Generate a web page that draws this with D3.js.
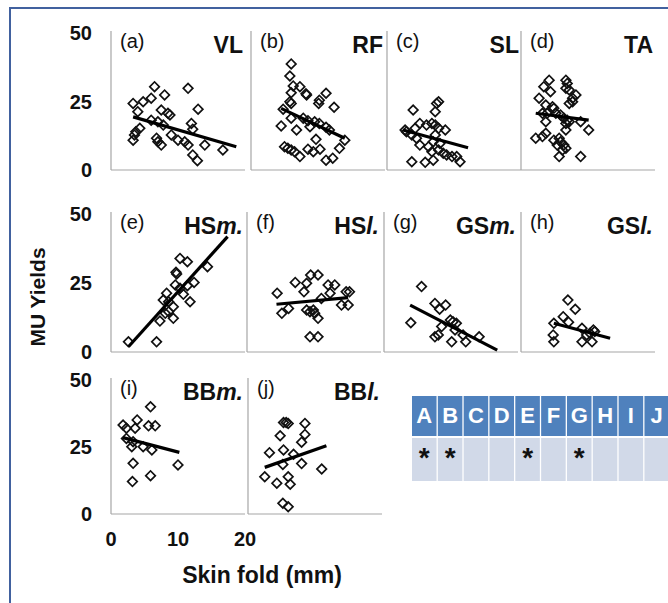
<!DOCTYPE html>
<html><head><meta charset="utf-8">
<script src="https://cdn.jsdelivr.net/npm/d3@7"></script>
<style>body{margin:0;background:#fff}svg{display:block}</style>
</head><body>
<script>
// ---------- DATA ----------
const yTicks = [0, 25, 50];
const xTicks = [0, 10, 20];
const panelLetters = ["(a)","(b)","(c)","(d)","(e)","(f)","(g)","(h)","(i)","(j)"];
const muscleNames  = ["VL","RF","SL","TA","HS","HS","GS","GS","BB","BB"];
const muscleSuffix = ["","","","","m.","l.","m.","l.","m.","l."];

const ptsVL = [[6.5,30.4],[11.5,29.8],[3.3,24.3],[4.8,24.9],[6.0,26.2],[8.0,27.4],[13.0,22.2],[4.0,21.3],[7.5,21.9],[8.5,20.7],[8.8,20.1],[6.0,18.2],[7.0,17.6],[7.8,16.4],[12.0,17.0],[12.2,14.9],[4.3,15.2],[3.7,14.0],[3.5,12.8],[3.3,10.9],[6.8,11.6],[7.0,10.3],[7.5,9.1],[9.0,12.8],[10.0,10.9],[11.0,10.3],[11.5,9.1],[14.0,9.1],[16.7,7.3],[12.2,5.5],[12.9,3.4]];
const fitVL = [[3.3,19.4],[18.7,8.5]];

const ptsRF = [[6.0,38.7],[5.8,34.3],[6.3,30.7],[7.3,30.4],[6.0,28.2],[8.3,27.4],[8.2,27.8],[11.2,28.0],[10.2,25.5],[10.1,24.3],[12.4,22.9],[5.8,24.9],[6.0,24.3],[4.8,22.2],[6.0,18.9],[4.5,16.1],[6.8,14.6],[8.8,15.8],[9.7,11.2],[14.0,10.9],[13.2,7.9],[5.0,8.5],[5.5,7.9],[6.0,7.3],[6.5,6.7],[7.3,4.9],[8.5,7.6],[9.3,6.7],[10.3,7.6],[11.2,3.6],[12.2,4.3],[7.8,18.9],[8.5,18.0],[9.5,17.6],[10.2,17.0],[11.2,15.6],[11.7,14.6]];
const fitRF = [[4.5,22.5],[14.0,11.6]];

const ptsSL = [[3.9,21.9],[7.7,24.9],[7.4,24.3],[7.2,21.3],[2.7,14.6],[2.9,14.0],[4.9,17.0],[5.9,16.4],[6.7,17.0],[7.2,16.4],[7.7,15.2],[4.2,15.2],[8.7,14.6],[3.7,12.8],[4.4,11.6],[7.2,12.8],[4.9,9.1],[6.2,8.5],[6.9,10.3],[7.9,9.7],[6.7,6.7],[7.7,7.3],[8.4,6.1],[8.9,5.5],[9.7,4.9],[10.4,4.9],[10.9,3.0],[3.7,3.0],[5.7,2.8],[6.9,3.6]];
const fitSL = [[2.4,14.6],[12.1,8.1]];

const ptsTA = [[4.2,32.8],[6.7,32.8],[6.9,31.6],[3.4,30.4],[4.4,28.6],[6.7,29.8],[7.2,29.2],[2.7,26.2],[8.2,27.4],[7.7,26.2],[7.2,24.3],[7.7,24.9],[3.7,23.7],[4.7,23.1],[4.9,22.5],[3.2,20.7],[3.9,20.7],[5.2,20.7],[5.9,20.1],[6.4,18.9],[6.9,18.2],[3.7,17.6],[6.7,17.0],[7.2,17.6],[8.9,17.6],[10.1,14.6],[6.7,14.6],[2.2,11.6],[3.2,12.2],[3.7,13.4],[4.9,10.9],[5.7,11.6],[5.9,10.3],[5.4,9.1],[6.4,9.1],[6.7,7.9],[6.2,7.3],[5.7,4.9],[8.9,4.9]];
const fitTA = [[2.2,20.7],[10.1,18.2]];

const ptsHSm = [[2.6,3.7],[6.8,3.7],[10.3,33.9],[11.4,32.7],[14.4,30.9],[9.7,28.9],[9.8,28.3],[12.4,25.2],[9.6,24.3],[10.3,23.1],[11.4,24.0],[8.3,21.3],[7.8,18.8],[10.8,20.9],[11.8,18.2],[9.3,16.4],[8.6,14.6],[8.1,14.0],[9.3,12.2],[7.3,11.2],[8.6,18.2]];
const fitHSm = [[2.6,1.9],[17.4,41.8]];

const ptsHSl = [[4.5,21.3],[7.2,25.2],[5.2,14.0],[6.2,15.8],[8.9,24.9],[9.5,27.9],[10.6,27.9],[8.5,21.8],[8.9,15.2],[9.4,14.6],[9.9,15.2],[10.1,14.0],[10.6,12.2],[9.4,5.5],[10.6,5.5],[11.1,19.4],[12.1,24.3],[13.1,24.3],[12.4,21.3],[14.1,17.0],[15.1,17.0],[14.8,21.8],[15.3,21.8]];
const fitHSl = [[4.4,17.3],[15.1,19.7]];

const ptsGSm = [[5.6,23.7],[4.0,10.6],[7.6,17.6],[8.3,15.5],[9.2,17.0],[9.9,11.6],[10.3,11.0],[10.8,10.4],[8.6,9.2],[7.6,5.5],[8.1,6.2],[10.6,8.0],[10.1,3.7],[11.8,6.2],[12.2,3.7],[14.2,5.5]];
const fitGSm = [[3.9,17.0],[16.9,0.7]];

const ptsGSl = [[7.0,18.8],[8.1,15.5],[6.3,12.8],[4.9,10.4],[7.1,10.8],[4.8,6.2],[4.9,3.7],[9.1,8.6],[9.1,3.7],[9.8,6.2],[10.3,6.8],[10.8,8.0],[11.0,7.4],[10.6,3.7]];
const fitGSl = [[4.9,10.4],[13.3,5.0]];

const ptsBBm = [[5.9,40.0],[1.8,33.2],[2.3,32.0],[3.9,35.1],[5.6,32.9],[6.6,32.9],[3.6,32.0],[2.3,28.2],[3.3,27.0],[3.1,25.1],[4.8,25.1],[6.1,23.9],[3.3,18.9],[10.0,18.3],[5.9,14.3],[3.2,12.1]];
const fitBBm = [[1.8,28.5],[10.2,23.0]];

const ptsBBl = [[5.3,34.1],[5.7,34.1],[6.0,33.8],[8.5,33.8],[8.5,29.7],[4.8,29.2],[8.0,26.8],[5.3,23.9],[3.2,22.9],[6.8,22.3],[5.2,18.5],[8.0,18.8],[11.0,16.8],[2.5,13.9],[6.0,13.9],[4.3,11.5],[6.3,11.1],[5.2,4.0],[6.0,2.7]];
const fitBBl = [[2.5,17.4],[11.7,25.5]];

const allPts  = [ptsVL, ptsRF, ptsSL, ptsTA, ptsHSm, ptsHSl, ptsGSm, ptsGSl, ptsBBm, ptsBBl];
const allFits = [fitVL, fitRF, fitSL, fitTA, fitHSm, fitHSl, fitGSm, fitGSl, fitBBm, fitBBl];

const tableLetters = ["A","B","C","D","E","F","G","H","I","J"];
const tableMarks   = ["*","*","","","*","","*","","",""];

// ---------- LAYOUT ----------
const W = 668, H = 603;
const FONT = "'Liberation Sans', Arial, Helvetica, sans-serif";
const rows = [
  {y0: 170, y50: 33, lefts: [111, 251, 387, 521]},
  {y0: 352, y50: 214, lefts: [111, 247, 384, 521]},
  {y0: 514, y50: 380, lefts: [111, 248]}
];
const PW = 134;

const svg = d3.select("body").append("svg").attr("width", W).attr("height", H);

svg.append("rect").attr("x", 10).attr("y", 8).attr("width", W + 20).attr("height", H + 20)
  .attr("fill", "none").attr("stroke", "#41619f").attr("stroke-width", 2);

let idx = 0;
rows.forEach((row, ri) => {
  const y = d3.scaleLinear().domain([0, 50]).range([row.y0, row.y50]);
  row.lefts.forEach((left, ci) => {
    const i = idx++;
    const x = d3.scaleLinear().domain([0, 20]).range([left, left + PW]);
    const g = svg.append("g");
    g.append("line").attr("x1", left).attr("x2", left).attr("y1", row.y50 - 2).attr("y2", row.y0)
      .attr("stroke", "#a6a6a6").attr("stroke-width", 1.2);
    g.append("line").attr("x1", left).attr("x2", left + PW).attr("y1", row.y0).attr("y2", row.y0)
      .attr("stroke", "#a6a6a6").attr("stroke-width", 1.2);

    const sym = d3.symbol().type(d3.symbolSquare).size(46);
    g.selectAll("path.pt").data(allPts[i]).join("path").attr("class", "pt")
      .attr("d", sym)
      .attr("transform", d => `translate(${x(d[0])},${y(d[1])}) rotate(45)`)
      .attr("fill", "none").attr("stroke", "#111").attr("stroke-width", 1.7);

    g.append("path").datum(allFits[i])
      .attr("d", d3.line().x(d => x(d[0])).y(d => y(d[1])))
      .attr("stroke", "#000").attr("stroke-width", 3.2).attr("fill", "none");

    g.append("text").attr("x", left + 9).attr("y", row.y50 + 15)
      .attr("font-family", FONT).attr("font-size", 20).attr("fill", "#111")
      .text(panelLetters[i]);
    const t = g.append("text").attr("x", left + PW - 2).attr("y", row.y50 + 20)
      .attr("text-anchor", "end").attr("font-family", FONT).attr("font-size", 23)
      .attr("font-weight", "bold").attr("fill", "#111");
    t.append("tspan").text(muscleNames[i]);
    if (muscleSuffix[i]) t.append("tspan").attr("font-style", "italic").text(muscleSuffix[i]);

    if (ci === 0) {
      svg.append("g").selectAll("text").data(yTicks).join("text")
        .attr("x", 92).attr("y", d => y(d)).attr("dy", "0.36em")
        .attr("text-anchor", "end").attr("font-family", FONT).attr("font-size", 20)
        .attr("font-weight", "bold").attr("fill", "#111").text(d => d);
    }
    if (ri === rows.length - 1 && ci === 0) {
      svg.append("g").selectAll("text").data(xTicks).join("text")
        .attr("x", d => x(d)).attr("y", 539).attr("dy", "0.36em")
        .attr("text-anchor", "middle").attr("font-family", FONT).attr("font-size", 20)
        .attr("font-weight", "bold").attr("fill", "#111").text(d => d);
    }
  });
});

svg.append("text").attr("x", 262).attr("y", 583).attr("text-anchor", "middle")
  .attr("font-family", FONT).attr("font-size", 23).attr("font-weight", "bold").attr("fill", "#111")
  .text("Skin fold (mm)");
svg.append("text").attr("transform", "translate(45,297) rotate(-90)").attr("text-anchor", "middle")
  .attr("font-family", FONT).attr("font-size", 21).attr("font-weight", "bold").attr("fill", "#111")
  .text("MU Yields");

// table
const tx = d3.scaleBand().domain(tableLetters).range([412, 669]).paddingInner(0.05).paddingOuter(0);
const tg = svg.append("g");
tg.selectAll("rect.h").data(tableLetters).join("rect").attr("class", "h")
  .attr("x", d => tx(d)).attr("y", 396).attr("width", tx.bandwidth()).attr("height", 40)
  .attr("fill", "#4f81bd");
tg.selectAll("rect.b").data(tableLetters).join("rect").attr("class", "b")
  .attr("x", d => tx(d)).attr("y", 438).attr("width", tx.bandwidth()).attr("height", 43)
  .attr("fill", "#d1d9e8");
tg.selectAll("text.h").data(tableLetters).join("text").attr("class", "h")
  .attr("x", d => tx(d) + tx.bandwidth() / 2).attr("y", 415).attr("dy", "0.36em")
  .attr("text-anchor", "middle").attr("font-family", FONT).attr("font-size", 22)
  .attr("font-weight", "bold").attr("fill", "#fff").text(d => d);
tg.selectAll("text.b").data(tableLetters.map((l, i) => [l, tableMarks[i]])).join("text").attr("class", "b")
  .attr("x", d => tx(d[0]) + tx.bandwidth() / 2).attr("y", 467)
  .attr("text-anchor", "middle").attr("font-family", FONT).attr("font-size", 28)
  .attr("font-weight", "bold").attr("fill", "#111").text(d => d[1]);
</script>
</body></html>
